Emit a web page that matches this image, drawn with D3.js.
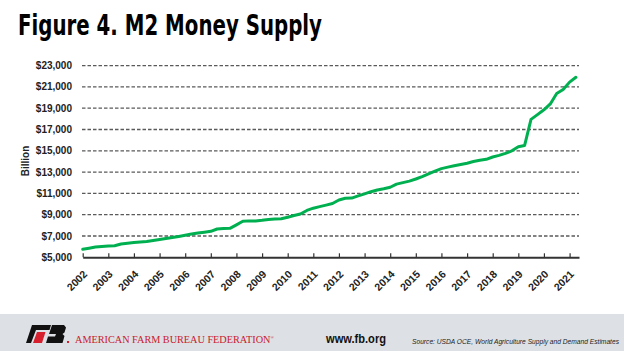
<!DOCTYPE html>
<html lang="en">
<head>
    <meta charset="UTF-8">
    <script src="https://d3js.org/d3.v7.min.js"></script>
    <style>
        body { margin: 0; background: #fff; }
        svg { display: block; }
        .ylab { font-family: "Liberation Sans", Arial, sans-serif; font-size: 10px; font-weight: bold; fill: #222; }
        .xlab { font-family: "Liberation Sans", Arial, sans-serif; font-size: 10.5px; font-weight: bold; fill: #222; }
    </style>
</head>
<body>
<div id="chart"></div>
<script>
    // M2 money supply, quarterly readings ($ billion), first value = Q1 2002
    const firstQuarter = "2002-01-01";
    const m2 = [
        5750, 5850, 5960, 6020, 6060, 6080, 6250, 6310,
        6380, 6430, 6490, 6580, 6670, 6760, 6860, 6960,
        7070, 7190, 7280, 7360, 7440, 7660, 7700, 7720,
        8050, 8380, 8420, 8410, 8470, 8550, 8590, 8620,
        8760, 8920, 9060, 9400, 9610, 9760, 9900, 10050,
        10380, 10550, 10560, 10770, 10960, 11160, 11320, 11430,
        11580, 11870, 12010, 12150, 12350, 12580, 12840, 13100,
        13330, 13470, 13600, 13710, 13830, 13990, 14110, 14200,
        14420, 14570, 14760, 15000, 15380, 15500, 17950, 18400,
        18850, 19400, 20380, 20750, 21450, 21900
    ];
    const yTicks = [5000, 7000, 9000, 11000, 13000, 15000, 17000, 19000, 21000, 23000];
    const yearTicks = d3.range(2002, 2022);

    const W = 624, H = 351;
    const svg = d3.select("#chart").append("svg")
        .attr("width", W).attr("height", H);

    const parse = d3.timeParse("%Y-%m-%d");
    const start = parse(firstQuarter);
    const data = m2.map((v, i) => ({ date: d3.timeMonth.offset(start, i * 3), value: v }));

    const x = d3.scaleTime()
        .domain([new Date(2002, 0, 1), new Date(2021, 4, 15)])
        .range([82.7, 579]);
    const y = d3.scaleLinear().domain([5000, 23000]).range([257.3, 65.6]);

    // title
    svg.append("text")
        .attr("x", 18).attr("y", 35)
        .attr("textLength", 304).attr("lengthAdjust", "spacingAndGlyphs")
        .style("font-family", "'Liberation Sans Narrow', 'DejaVu Sans Condensed', sans-serif")
        .style("font-weight", "bold").style("font-size", "29px").style("fill", "#000")
        .text("Figure 4. M2 Money Supply");

    // gridlines
    svg.append("g").selectAll("line")
        .data(yTicks.slice(1))
        .join("line")
        .attr("x1", 82).attr("x2", 579)
        .attr("y1", d => y(d)).attr("y2", d => y(d))
        .attr("stroke", "#5a5a5a").attr("stroke-width", 1.3)
        .attr("stroke-dasharray", "3.5,2");

    // y labels
    svg.append("g").selectAll("text")
        .data(yTicks)
        .join("text")
        .attr("class", "ylab")
        .attr("x", 72).attr("y", d => y(d))
        .attr("dy", "0.35em")
        .attr("text-anchor", "end")
        .text(d => "$" + d3.format(",")(d));

    svg.append("text")
        .attr("class", "ylab")
        .attr("transform", "translate(29,161) rotate(-90)")
        .attr("text-anchor", "middle")
        .text("Billion");

    // x axis
    const xAxis = svg.append("g")
        .attr("transform", `translate(0,${y(5000)})`)
        .call(d3.axisBottom(x)
            .tickValues(yearTicks.map(yr => new Date(yr, 0, 1)))
            .tickSize(-4).tickSizeOuter(0)
            .tickFormat(d3.timeFormat("%Y")));
    xAxis.select(".domain").attr("stroke", "#333").attr("stroke-width", 2);
    xAxis.selectAll(".tick line").attr("stroke", "#333").attr("stroke-width", 1.2);
    xAxis.selectAll(".tick text")
        .attr("class", "xlab")
        .attr("text-anchor", "end")
        .attr("x", 0).attr("y", 0)
        .attr("dy", "0.35em")
        .attr("transform", "translate(2,15) rotate(-45)");

    // line
    svg.append("path")
        .datum(data)
        .attr("fill", "none")
        .attr("stroke", "#00b050")
        .attr("stroke-width", 3)
        .attr("stroke-linejoin", "round")
        .attr("stroke-linecap", "round")
        .attr("d", d3.line().x(d => x(d.date)).y(d => y(d.value)));

    // footer band
    svg.append("rect")
        .attr("x", 0).attr("y", 314).attr("width", W).attr("height", H - 314)
        .attr("fill", "#dde1e5");

    const logo = svg.append("g");
    logo.append("path").attr("fill", "#111")
        .attr("d", "M32,325 L51,325 L49.5,330 L36,330 L31,343 L26,343 Z");
    logo.append("path").attr("fill", "#d6202e")
        .attr("d", "M37,332 L45.5,332 L42,343 L33,343 Z");
    logo.append("path").attr("fill", "#111")
        .attr("d", "M52,325 L64,325 L66,327.5 L64.5,332.5 L62.5,334 L64.5,336 L62.5,343 L46,343 L48,336.5 L55,336.5 L56,334 L49,334 Z");
    logo.append("rect").attr("x", 67).attr("y", 341).attr("width", 2).attr("height", 2).attr("fill", "#d6202e");

    const afbf = svg.append("text")
        .attr("x", 75).attr("y", 343.3)
        .attr("textLength", 199).attr("lengthAdjust", "spacingAndGlyphs")
        .style("font-family", "'Liberation Serif', serif").style("font-size", "11px")
        .style("fill", "#c8202f");
    afbf.append("tspan").text("AMERICAN FARM BUREAU FEDERATION");
    afbf.append("tspan").attr("dy", -4).style("font-size", "5px").text("®");

    svg.append("text")
        .attr("x", 326).attr("y", 343)
        .attr("textLength", 60).attr("lengthAdjust", "spacingAndGlyphs")
        .style("font-family", "'Liberation Sans', Arial, sans-serif").style("font-size", "12px")
        .style("font-weight", "bold").style("fill", "#111")
        .text("www.fb.org");

    svg.append("text")
        .attr("x", 412).attr("y", 343.5)
        .attr("textLength", 207).attr("lengthAdjust", "spacingAndGlyphs")
        .style("font-family", "'Liberation Sans', Arial, sans-serif").style("font-size", "6.5px")
        .style("font-style", "italic").style("fill", "#222")
        .text("Source: USDA OCE, World Agriculture Supply and Demand Estimates");
</script>
</body>
</html>
